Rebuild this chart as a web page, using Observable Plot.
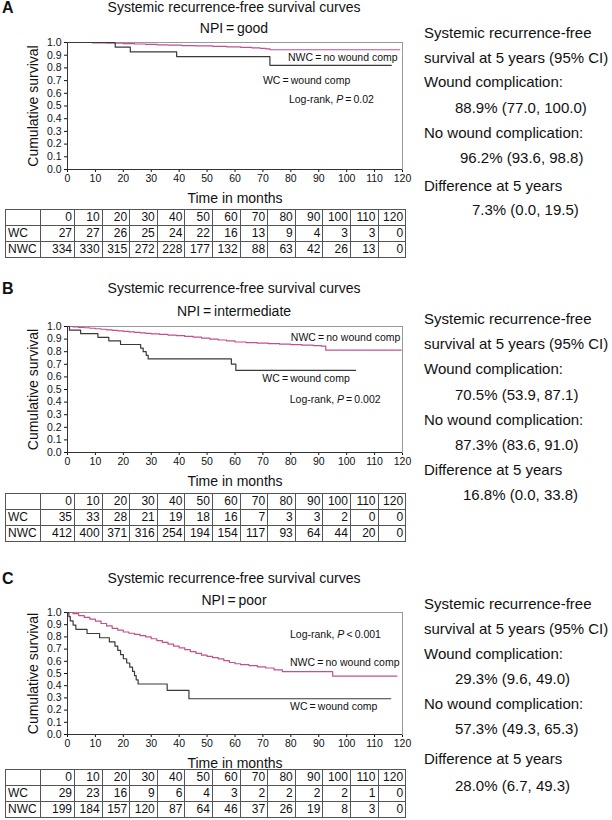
<!DOCTYPE html>
<html><head><meta charset="utf-8">
<script src="https://cdn.jsdelivr.net/npm/d3@7"></script>
<script src="https://cdn.jsdelivr.net/npm/@observablehq/plot@0.6"></script>
<style>
body{margin:0;background:#fff;}
#root{position:relative;width:612px;height:820px;font-family:"Liberation Sans",Arial,sans-serif;color:#111;overflow:hidden;background:#fff;}
.abs{position:absolute;white-space:nowrap;line-height:1;}
.letter{font-weight:bold;font-size:16px;transform:translateY(-50%);}
.title{font-size:14px;transform:translate(-50%,-50%);}
.rt{font-size:15px;transform:translateY(-50%);}
table.risk{position:absolute;border-collapse:collapse;font-size:12px;table-layout:fixed;}
table.risk td{border:1px solid #555;height:15px;padding:0 2px 0 0;text-align:right;line-height:15px;overflow:hidden;}
table.risk td.lab{text-align:left;padding-left:2px;}
svg{position:absolute;left:0;overflow:visible;}
</style></head><body><div id="root"></div>
<script>
// ---------- data ----------
const timeTicks = [0,10,20,30,40,50,60,70,80,90,100,110,120];
const survTicks = [0,0.1,0.2,0.3,0.4,0.5,0.6,0.7,0.8,0.9,1.0];
const groups = ["WC","NWC"];

// Panel A : NPI = good
const A_WC_t  = [0, 17.1, 22.5, 39.1, 72.5, 116];
const A_WC_s  = [1, 0.963, 0.926, 0.889, 0.82, 0.82];
const A_NWC_t = [0, 9, 14, 20, 24, 28, 32, 36, 41, 46, 52, 57, 62, 66, 69, 71, 72.5, 119];
const A_NWC_s = [1, 0.997, 0.994, 0.991, 0.988, 0.985, 0.982, 0.979, 0.976, 0.973, 0.97, 0.966, 0.962, 0.958, 0.954, 0.95, 0.943, 0.943];
const A_risk_WC  = [27,27,26,25,24,22,16,13,9,4,3,3,0];
const A_risk_NWC = [334,330,315,272,228,177,132,88,63,42,26,13,0];

// Panel B : NPI = intermediate
const B_WC_t  = [0, 0.7, 4.7, 10.9, 14.8, 19, 26.2, 27.1, 28.2, 28.9, 58.7, 60.3, 103.2];
const B_WC_s  = [1, 0.971, 0.943, 0.914, 0.886, 0.857, 0.829, 0.8, 0.771, 0.743, 0.702, 0.651, 0.651];
const B_NWC_t = [0, 2, 4, 6, 8, 10, 12, 14, 16, 18, 20, 22, 24, 26, 28, 30, 33, 36, 39, 42, 45, 48, 51, 54, 57, 60, 64, 68, 72, 76, 80, 84, 88, 91, 92.5, 119.5];
const B_NWC_s = [1, 0.997, 0.993, 0.99, 0.986, 0.982, 0.978, 0.974, 0.97, 0.966, 0.962, 0.958, 0.954, 0.95, 0.946, 0.942, 0.937, 0.932, 0.927, 0.921, 0.915, 0.908, 0.9, 0.893, 0.886, 0.877, 0.872, 0.868, 0.864, 0.86, 0.856, 0.852, 0.848, 0.844, 0.812, 0.812];
const B_risk_WC  = [35,33,28,21,19,18,16,7,3,3,2,0,0];
const B_risk_NWC = [412,400,371,316,254,194,154,117,93,64,44,20,0];

// Panel C : NPI = poor
const C_WC_t  = [0, 0.5, 1, 2, 3, 7, 11.5, 15, 17, 18, 19, 20, 21.2, 22.3, 23.3, 24, 24.6, 25.3, 35.7, 43.5, 115.8];
const C_WC_s  = [1, 0.966, 0.931, 0.897, 0.862, 0.828, 0.793, 0.759, 0.724, 0.69, 0.655, 0.621, 0.586, 0.552, 0.517, 0.483, 0.448, 0.414, 0.362, 0.293, 0.293];
const C_NWC_t = [0, 2, 4, 6, 8, 10, 12, 14, 16, 18, 20, 22, 24, 26, 28, 30, 32, 34, 36, 38, 40, 42, 44, 46, 48, 50, 52, 54, 56, 58, 60, 62, 65, 68, 71, 74, 77, 95, 118];
const C_NWC_s = [1, 0.99, 0.975, 0.96, 0.945, 0.93, 0.91, 0.89, 0.87, 0.855, 0.84, 0.83, 0.82, 0.81, 0.8, 0.785, 0.77, 0.755, 0.74, 0.725, 0.71, 0.695, 0.68, 0.665, 0.65, 0.64, 0.63, 0.62, 0.605, 0.59, 0.58, 0.572, 0.565, 0.555, 0.545, 0.53, 0.515, 0.478, 0.478];
const C_risk_WC  = [29,23,16,9,6,4,3,2,2,2,2,1,0];
const C_risk_NWC = [199,184,157,120,87,64,46,37,26,19,8,3,0];

// annotation texts
const A_labels = ["NWC\u2009=\u2009no wound comp", "WC\u2009=\u2009wound comp", "Log-rank, P\u2009=\u20090.02"];
const B_labels = ["NWC\u2009=\u2009no wound comp", "WC\u2009=\u2009wound comp", "Log-rank, P\u2009=\u20090.002"];
const C_labels = ["Log-rank, P\u2009<\u20090.001", "NWC\u2009=\u2009no wound comp", "WC\u2009=\u2009wound comp"];
const A_labelPos = [[79, 0.88], [70, 0.70], [79.3, 0.55]];
const B_labelPos = [[80, 0.91], [69.8, 0.59], [79.6, 0.42]];
const C_labelPos = [[79.7, 0.82], [79.7, 0.59], [79.7, 0.23]];

const titleText = "Systemic recurrence-free survival curves";
const npiText = ["NPI\u2009=\u2009good", "NPI\u2009=\u2009intermediate", "NPI\u2009=\u2009poor"];
const letters = ["A","B","C"];

const A_side = ["Systemic recurrence-free","survival at 5 years (95% CI)","Wound complication:","88.9% (77.0, 100.0)","No wound complication:","96.2% (93.6, 98.8)","Difference at 5 years","7.3% (0.0, 19.5)"];
const B_side = ["Systemic recurrence-free","survival at 5 years (95% CI)","Wound complication:","70.5% (53.9, 87.1)","No wound complication:","87.3% (83.6, 91.0)","Difference at 5 years","16.8% (0.0, 33.8)"];
const C_side = ["Systemic recurrence-free","survival at 5 years (95% CI)","Wound complication:","29.3% (9.6, 49.0)","No wound complication:","57.3% (49.3, 65.3)","Difference at 5 years","28.0% (6.7, 49.3)"];

// ---------- layout ----------
const panels = [
  {letter:letters[0], npi:npiText[0], titleY:7, npiY:28, letterY:8, top:42, bottom:169, tableTop:209,
   wc:[A_WC_t,A_WC_s], nwc:[A_NWC_t,A_NWC_s], risk:[A_risk_WC,A_risk_NWC], labels:A_labels, labelPos:A_labelPos,
   side:A_side, sideY:[32,57,81,107,132,157,185,209], sideX:[424,424,424,455,424,460,424,472]},
  {letter:letters[1], npi:npiText[1], titleY:288, npiY:311, letterY:289, top:326, bottom:452, tableTop:493,
   wc:[B_WC_t,B_WC_s], nwc:[B_NWC_t,B_NWC_s], risk:[B_risk_WC,B_risk_NWC], labels:B_labels, labelPos:B_labelPos,
   side:B_side, sideY:[318,343,368,394,419,444,469,494], sideX:[424,424,424,455,424,455,424,463]},
  {letter:letters[2], npi:npiText[2], titleY:578, npiY:600, letterY:579, top:612, bottom:734, tableTop:769,
   wc:[C_WC_t,C_WC_s], nwc:[C_NWC_t,C_NWC_s], risk:[C_risk_WC,C_risk_NWC], labels:C_labels, labelPos:C_labelPos,
   side:C_side, sideY:[603,628,653,678,703,728,758,785], sideX:[424,424,424,455,424,455,424,455]}
];

const root = document.getElementById("root");
function addDiv(cls, text, x, y) {
  const d = document.createElement("div");
  d.className = "abs " + cls;
  d.textContent = text;
  d.style.left = x + "px";
  d.style.top = y + "px";
  root.appendChild(d);
  return d;
}

const PLOT_LEFT = 67, PLOT_RIGHT = 402, SVG_W = 420, MT = 8, MB = 40;

for (const p of panels) {
  addDiv("letter", p.letter, 2, p.letterY);
  addDiv("title", titleText, 234, p.titleY);
  addDiv("title", p.npi, 234, p.npiY);

  const wcPts = p.wc[0].map((t,i) => ({t, s:p.wc[1][i]}));
  const nwcPts = p.nwc[0].map((t,i) => ({t, s:p.nwc[1][i]}));
  const lab = p.labels.map((text,i) => ({text, x:p.labelPos[i][0], y:p.labelPos[i][1]}));
  const plotH = p.bottom - p.top;

  const chart = Plot.plot({
    width: SVG_W,
    height: MT + plotH + MB,
    marginLeft: PLOT_LEFT, marginRight: SVG_W - PLOT_RIGHT, marginTop: MT, marginBottom: MB,
    style: {fontFamily: "'Liberation Sans', Arial, sans-serif", fontSize: "10.5px", color: "#111", background: "transparent", overflow: "visible"},
    x: {domain:[0,120], ticks: timeTicks, tickSize: 3, tickPadding: 2, label: null},
    y: {domain:[0,1], ticks: survTicks, tickFormat: d3.format(".1f"), tickSize: 3, tickPadding: 3, label: null},
    marks: [
      Plot.frame({stroke: "#999"}),
      Plot.ruleX([0], {stroke: "#333"}),
      Plot.ruleY([0], {stroke: "#333"}),
      Plot.line(nwcPts, {x:"t", y:"s", curve:"step-after", stroke:"#c2508f", strokeWidth:1.2}),
      Plot.line(wcPts, {x:"t", y:"s", curve:"step-after", stroke:"#3a3a3a", strokeWidth:1.2}),
      Plot.text(lab, {x:"x", y:"y", text:"text", textAnchor:"start", fontSize:10.5, fill:"#111"}),
      Plot.text(["Cumulative survival"], {text: d => d, frameAnchor:"left", textAnchor:"middle", lineAnchor:"middle", rotate:-90, dx:-34, fontSize:14, fill:"#111"}),
      Plot.text(["Time in months"], {text: d => d, frameAnchor:"bottom", textAnchor:"middle", lineAnchor:"middle", dy:29, fontSize:14, fill:"#111"})
    ]
  });
  chart.style.top = (p.top - MT) + "px";
  chart.querySelectorAll("text").forEach(t => {
    const s = t.textContent;
    if (s.startsWith("Log-rank, P")) {
      t.innerHTML = "Log-rank, <tspan font-style=\"italic\">P</tspan>" + s.slice("Log-rank, P".length);
    }
  });
  root.appendChild(chart);

  // at-risk table
  const tbl = document.createElement("table");
  tbl.className = "risk";
  tbl.style.left = "5px";
  tbl.style.top = p.tableTop + "px";
  const cg = document.createElement("colgroup");
  const widths = [35, 34].concat(timeTicks.slice(1).map(() => 27.6));
  widths.forEach(w => { const c = document.createElement("col"); c.style.width = w + "px"; cg.appendChild(c); });
  tbl.appendChild(cg);
  const rows = [["", ...timeTicks], [groups[0], ...p.risk[0]], [groups[1], ...p.risk[1]]];
  rows.forEach(r => {
    const tr = document.createElement("tr");
    r.forEach((v, i) => {
      const td = document.createElement("td");
      if (i === 0) td.className = "lab";
      td.textContent = v;
      tr.appendChild(td);
    });
    tbl.appendChild(tr);
  });
  root.appendChild(tbl);

  p.side.forEach((s, i) => addDiv("rt", s, p.sideX[i], p.sideY[i]));
}
</script></body></html>
